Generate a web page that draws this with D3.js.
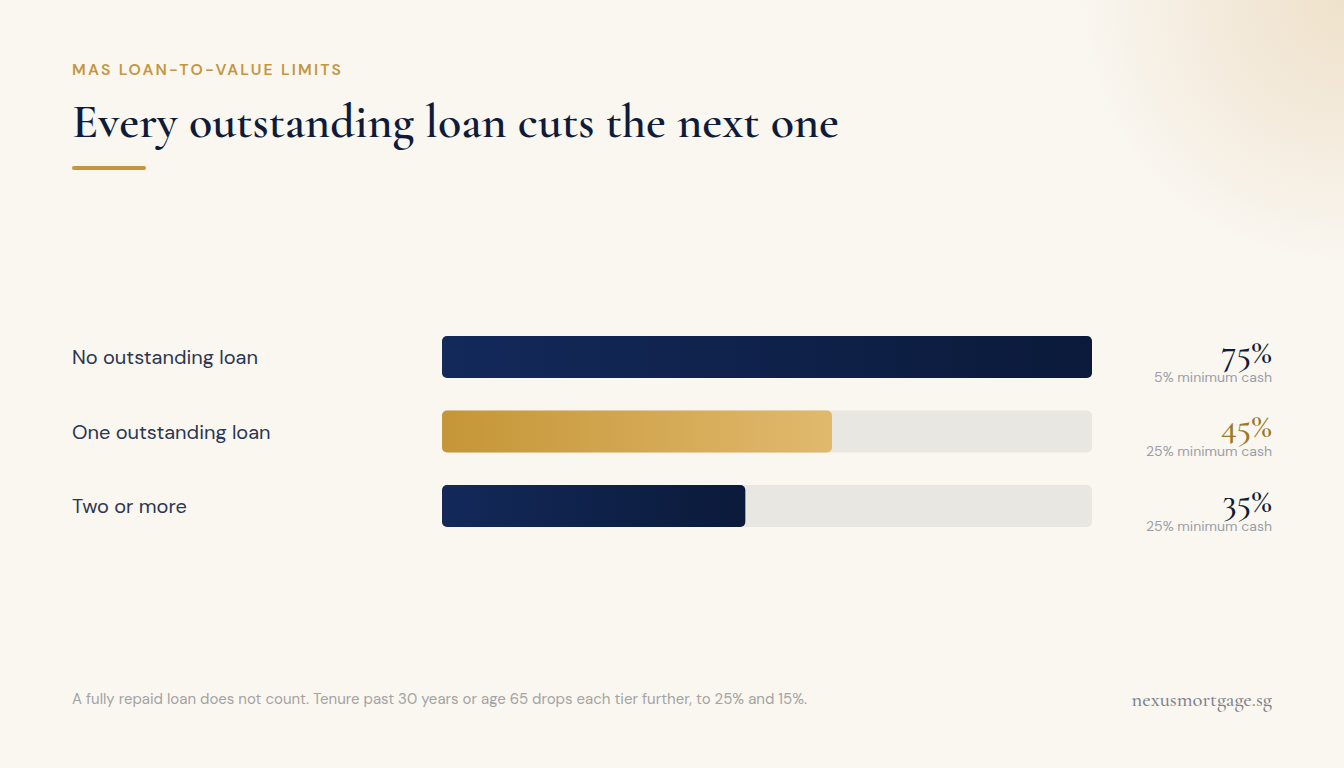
<!DOCTYPE html>
<html><head><meta charset="utf-8">
<script src="https://cdn.jsdelivr.net/npm/d3@7"></script>
<style>
html,body{margin:0;padding:0;background:#faf7f1;}
svg{display:block;}
</style></head>
<body>
<svg id="chart" width="1344" height="768"></svg>
<script>
const categories = ["No outstanding loan", "One outstanding loan", "Two or more"];
const ltvValues = [75, 45, 35];
const valueLabels = ["75%", "45%", "35%"];
const cashLabels = ["5% minimum cash", "25% minimum cash", "25% minimum cash"];
const barStyles = ["navy", "gold", "navy"];

const W = 1344, H = 768;
const svg = d3.select("#chart");
const defs = svg.append("defs");

const glow = defs.append("radialGradient").attr("id","glow")
  .attr("cx", 1344).attr("cy", 0).attr("r", 270).attr("gradientUnits","userSpaceOnUse");
glow.append("stop").attr("offset","0%").attr("stop-color","#efe2cb");
glow.append("stop").attr("offset","50%").attr("stop-color","#f4ebdd");
glow.append("stop").attr("offset","100%").attr("stop-color","#faf7f1");

svg.append("rect").attr("width",W).attr("height",H).attr("fill","#faf7f1");
svg.append("rect").attr("width",W).attr("height",H).attr("fill","url(#glow)");

const navy = defs.append("linearGradient").attr("id","navy");
navy.append("stop").attr("offset","0%").attr("stop-color","#13295a");
navy.append("stop").attr("offset","100%").attr("stop-color","#0b1a3a");
const gold = defs.append("linearGradient").attr("id","gold");
gold.append("stop").attr("offset","0%").attr("stop-color","#c59637");
gold.append("stop").attr("offset","100%").attr("stop-color","#e1b96d");

const sans = "'DM Sans', Inter, 'Open Sans', sans-serif";
const serif = "'Cormorant Garamond', 'Liberation Serif', serif";

function fitWidth(sel, target) {
  const fs = +sel.attr("font-size");
  const w = sel.node().getComputedTextLength();
  sel.attr("font-size", fs * target / w);
}

const eyebrow = svg.append("text").attr("x",72).attr("y",75)
  .attr("font-family",sans).attr("font-weight",600).attr("font-size",14.5)
  .attr("letter-spacing","2.2px").attr("fill","#c4963f")
  .text("MAS LOAN-TO-VALUE LIMITS");
fitWidth(eyebrow, 276);

const title = svg.append("text").attr("x",72).attr("y",137)
  .attr("font-family",serif).attr("font-weight",600).attr("font-size",48).attr("fill","#0e1c3a")
  .text("Every outstanding loan cuts the next one");
fitWidth(title, 767);

svg.append("rect").attr("x",72).attr("y",166).attr("width",74).attr("height",4)
  .attr("rx",2).attr("fill","#c4963f");

const x = d3.scaleLinear().domain([0, 75]).range([442, 1092]);
const y = d3.scaleBand().domain(categories).range([336, 527]).paddingInner(0.436).paddingOuter(0);

const rows = svg.append("g").selectAll("g").data(categories).join("g");

rows.append("text").attr("x",72).attr("y",d => y(d) + y.bandwidth()/2 + 7)
  .attr("font-family",sans).attr("font-weight",400).attr("font-size",20).attr("fill","#2b3652")
  .text(d => d);

rows.append("rect").attr("x",x(0)).attr("y",d=>y(d))
  .attr("width",x(75)-x(0)).attr("height",y.bandwidth())
  .attr("rx",5).attr("fill","#e9e7e2");

rows.append("rect").attr("x",x(0)).attr("y",d=>y(d))
  .attr("width",(d,i)=>x(ltvValues[i])-x(0)).attr("height",y.bandwidth())
  .attr("rx",5).attr("fill",(d,i)=> barStyles[i]==="gold" ? "url(#gold)" : "url(#navy)");

rows.append("text").attr("x",1272).attr("y",d => y(d) + 27)
  .attr("text-anchor","end").attr("font-family",serif).attr("font-weight",500).attr("font-size",36)
  .attr("fill",(d,i)=> barStyles[i]==="gold" ? "#9a7828" : "#0e1c3a")
  .text((d,i)=>valueLabels[i]);

rows.append("text").attr("x",1272).attr("y",d => y(d) + 46)
  .attr("text-anchor","end").attr("font-family",sans).attr("font-size",14)
  .attr("fill","#9a9ea6")
  .text((d,i)=>cashLabels[i]);

svg.append("text").attr("x",72).attr("y",704)
  .attr("font-family",sans).attr("font-size",15).attr("fill","#a3a3a3")
  .text("A fully repaid loan does not count. Tenure past 30 years or age 65 drops each tier further, to 25% and 15%.");

const brand = svg.append("text").attr("x",1272).attr("y",706)
  .attr("text-anchor","end").attr("font-family",serif).attr("font-weight",500).attr("font-size",20.5).attr("fill","#7d828c");
brand.append("tspan").text("nexusmortgage");
brand.append("tspan").attr("fill","#c4963f").text(".");
brand.append("tspan").text("sg");
</script>
</body></html>
